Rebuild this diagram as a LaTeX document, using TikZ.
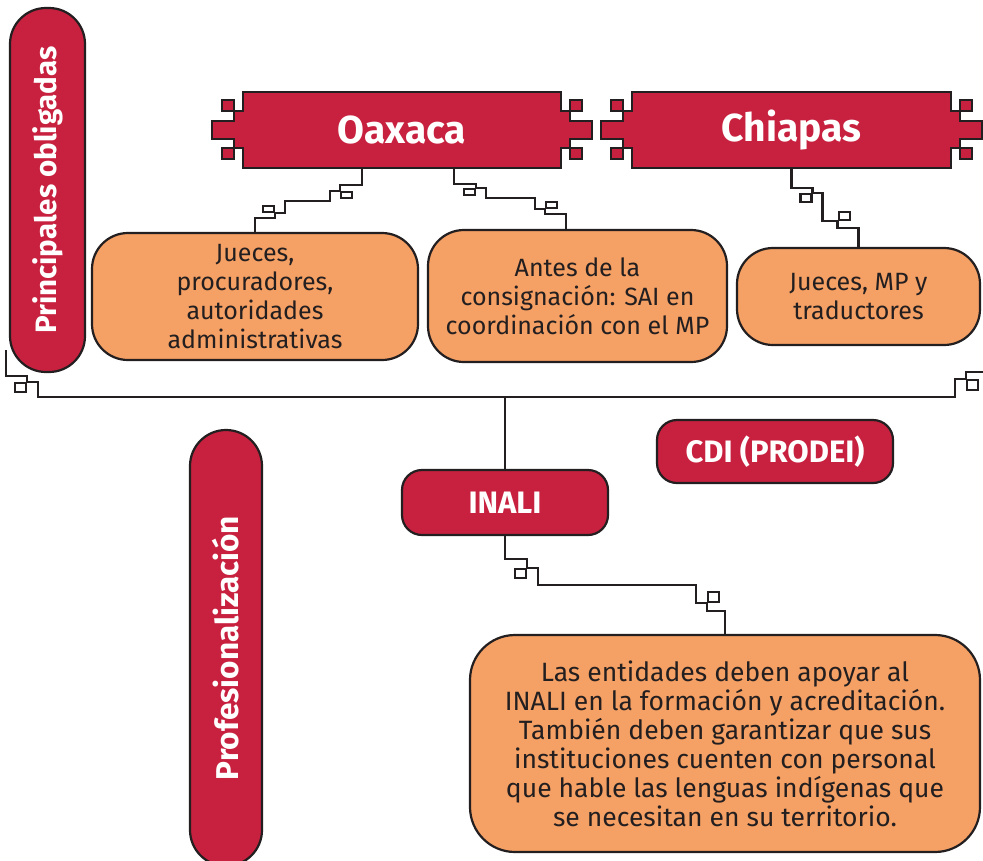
\documentclass[tikz,border=0pt]{standalone}
\usepackage{fontspec}
\setmainfont{Fira Sans}
\usetikzlibrary{calc}
\definecolor{crimson}{HTML}{C8213F}
\definecolor{peach}{HTML}{F5A064}
\definecolor{ink}{HTML}{231F20}

% banner with greek-key ends, #1 left and #2 right edge of the main part
\newcommand\bannershape[2]{%
  \filldraw[bannerline] (#1,92) -- (#1,111) -- ({#1-9},111) -- ({#1-9},121) -- ({#1-31},121)
    -- ({#1-31},139) -- ({#1-9},139) -- ({#1-9},148) -- (#1,148) -- (#1,168) -- (#2,168)
    -- (#2,148) -- ({#2+9},148) -- ({#2+9},139) -- ({#2+31},139) -- ({#2+31},121)
    -- ({#2+9},121) -- ({#2+9},111) -- (#2,111) -- (#2,92) -- cycle;
  \filldraw[bannerline] ({#1-21},100) rectangle ({#1-9},111);
  \filldraw[bannerline] ({#1-21},148) rectangle ({#1-9},159);
  \filldraw[bannerline] ({#2+9},100) rectangle ({#2+21},111);
  \filldraw[bannerline] ({#2+9},148) rectangle ({#2+21},159);
}

\begin{document}
\begin{tikzpicture}[x=1pt,y=-1pt,
    bannerline/.style={fill=crimson,draw=ink,line width=2.2pt},
    bannertext/.style={text=white,inner sep=0,font=\bfseries\fontsize{39}{44}\selectfont},
    peachbox/.style={draw=ink,line width=2.2pt,fill=peach,rounded corners=36pt,
      align=center,text=ink,inner sep=0,font=\fontsize{25}{29}\selectfont},
    redtag/.style={draw=ink,line width=2.2pt,fill=crimson,rounded corners=20pt,
      text=white,inner sep=0,font=\bfseries\fontsize{31}{34}\selectfont},
    sidebar/.style={draw=ink,line width=2.2pt,fill=crimson,rounded corners=36pt,
      text=white,inner sep=0,font=\bfseries\fontsize{29.5}{32}\selectfont},
    keyline/.style={draw=ink,line width=2.4pt},
    keysq/.style={draw=ink,line width=2.2pt,inner sep=0,minimum width=11pt,minimum height=#1},
    keysq/.default=8pt]
  \useasboundingbox (0,0) rectangle (983,860);

  \node[sidebar,rotate=90,minimum width=364pt,minimum height=75pt] (lbar) at (47.5,190) {Principales obligadas};
  \node[sidebar,rotate=90,minimum width=436pt,minimum height=72pt,font=\bfseries\fontsize{31.5}{34}\selectfont] (pbar) at (226,648) {Profesionalización};

  \bannershape{243}{561}
  \node[bannertext,minimum width=318pt,minimum height=76pt] (oax) at (402,130) {Oaxaca};
  \bannershape{632}{951}
  \node[bannertext,minimum width=319pt,minimum height=76pt] (chi) at (791.5,130) {Chiapas};

  \node[peachbox,minimum width=326pt,minimum height=127pt] (box1) at (255,296.5)
    {Jueces,\\procuradores,\\autoridades\\administrativas};
  \node[peachbox,minimum width=299pt,minimum height=132pt] (box2) at (577.5,296)
    {Antes de la\\consignación: SAI en\\coordinación con el MP};
  \node[peachbox,minimum width=243pt,minimum height=97pt] (box3) at (858.5,296.5)
    {Jueces, MP y\\traductores};

  \node[redtag,minimum width=236pt,minimum height=63pt] (cdi) at (775,451.5) {CDI (PRODEI)};
  \node[redtag,minimum width=206pt,minimum height=65pt] (inali) at (505,502.5) {INALI};

  \node[peachbox,rounded corners=45pt,minimum width=510pt,minimum height=217pt,font=\fontsize{26.5}{29}\selectfont] (big) at (725,743.5)
    {Las entidades deben apoyar al\\INALI en la formación y acreditación.\\También deben garantizar que sus\\instituciones cuenten con personal\\que hable las lenguas indígenas que\\se necesitan en su territorio.};

  % stepped connectors
  \draw[keyline] ($(oax.south)+(-40,0)$) -- ++(0,17) -- ++(-22,0) -- ++(0,6)
    node[keysq=6pt,anchor=north west] (a1) {} -- ++(-10,0) -- ++(0,10) -- ++(-45,0)
    -- ++(0,12) -- ++(-10,0) node[keysq=6pt,anchor=south east] (a2) {} -- ++(0,5) -| (box1.north);
  \draw[keyline] ($(oax.south)+(52,0)$) -- ++(0,16) -- ++(22,0) -- ++(0,4)
    node[keysq=6pt,anchor=north east] (b1) {} -- ++(10,0) -- ++(0,10) -- ++(49,0)
    -- ++(0,11) -- ++(10,0) node[keysq=6pt,anchor=south west] (b2) {} -- ++(0,5)
    -- ++(21,0) coordinate (b0) -- (b0 |- box2.north);
  \draw[keyline] (chi.south) -- ++(0,20) -- ++(21,0) -- ++(0,5)
    node[keysq=8pt,anchor=north east] (c1) {} -- ++(10,0) -- ++(0,28) -- ++(15,0)
    node[keysq=8pt,anchor=south west] (c2) {} -- ++(0,7) -| (box3.north);
  \draw[keyline] (inali.south) -- ++(0,23) -- ++(22,0) -- ++(0,9)
    node[keysq=9pt,anchor=north east] (d1) {} -- ++(11,0) -- ++(0,17) -- ++(158,0)
    -- ++(0,18) -- ++(11,0) node[keysq=10pt,anchor=south west] (d2) {} -- ++(0,8) -| (big.north);

  % long line under the first row
  \coordinate (lend) at (6,350);
  \coordinate (rend) at (983,372);
  \coordinate (hub) at (505,397);
  \draw[keyline] (lend) -- ++(0,26) -- ++(21,0) -- ++(0,6)
    node[keysq=9pt,anchor=north east] (m1) {} -- ++(11,0) -- ++(0,15) -- (hub) -- (955,397)
    -- ++(0,-18) -- ++(11,0) node[keysq=10pt,anchor=north west] (m2) {} -- ++(0,-7) -- (rend);
  \draw[keyline] (hub) -- (inali.north);
\end{tikzpicture}
\end{document}
